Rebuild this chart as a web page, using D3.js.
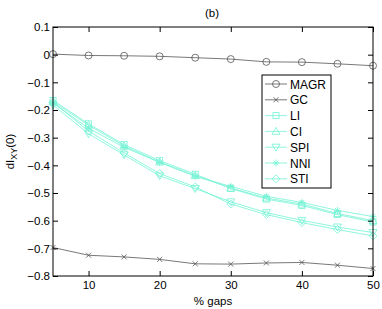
<!DOCTYPE html>
<html>
<head>
<meta charset="utf-8">
<script src="https://cdn.jsdelivr.net/npm/d3@7"></script>
<style>
  body { margin: 0; background: #fff; }
  svg { font-family: "Liberation Sans", Arial, sans-serif; }
</style>
</head>
<body>
<div id="chart"></div>
<script>
const gaps = [5, 10, 15, 20, 25, 30, 35, 40, 45, 50];
const magr = [0.002, -0.003, -0.004, -0.006, -0.011, -0.016, -0.026, -0.027, -0.033, -0.040];
const gc = [-0.697, -0.725, -0.731, -0.740, -0.756, -0.757, -0.753, -0.751, -0.761, -0.773];
const li = [-0.165, -0.250, -0.325, -0.383, -0.432, -0.484, -0.522, -0.545, -0.578, -0.605];
const ci = [-0.170, -0.255, -0.330, -0.388, -0.437, -0.482, -0.518, -0.540, -0.574, -0.600];
const spi = [-0.182, -0.286, -0.362, -0.438, -0.484, -0.532, -0.571, -0.599, -0.623, -0.643];
const nni = [-0.175, -0.266, -0.335, -0.390, -0.440, -0.476, -0.512, -0.534, -0.563, -0.585];
const sti = [-0.172, -0.276, -0.355, -0.430, -0.478, -0.540, -0.578, -0.607, -0.632, -0.655];
const xTicks = [10, 20, 30, 40, 50];
const yTicks = [0.1, 0, -0.1, -0.2, -0.3, -0.4, -0.5, -0.6, -0.7, -0.8];

const dark = '#555';
const cyan = '#74f2d4';
const series = [
  { name: 'MAGR', values: magr, color: dark, marker: 'circle' },
  { name: 'GC', values: gc, color: dark, marker: 'x' },
  { name: 'LI', values: li, color: cyan, marker: 'square' },
  { name: 'CI', values: ci, color: cyan, marker: 'triUp' },
  { name: 'SPI', values: spi, color: cyan, marker: 'triDown' },
  { name: 'NNI', values: nni, color: cyan, marker: 'star' },
  { name: 'STI', values: sti, color: cyan, marker: 'diamond' }
];

const width = 382, height = 309;
const margin = { top: 27, right: 9, bottom: 33, left: 53 };
const innerW = width - margin.left - margin.right;
const innerH = height - margin.top - margin.bottom;

const svg = d3.select('#chart').append('svg')
  .attr('width', width).attr('height', height);
const g = svg.append('g').attr('transform', `translate(${margin.left},${margin.top})`);

const x = d3.scaleLinear().domain([5, 50]).range([0, innerW]);
const y = d3.scaleLinear().domain([-0.8, 0.1]).range([innerH, 0]);

function drawMarker(sel, type, color) {
  const r = 3.5;
  if (type === 'circle') {
    sel.append('circle').attr('r', r).attr('fill', 'none').attr('stroke', color);
  } else if (type === 'x') {
    sel.append('path').attr('d', 'M-2.5,-2.5L2.5,2.5M-2.5,2.5L2.5,-2.5')
      .attr('stroke', color).attr('fill', 'none');
  } else if (type === 'square') {
    sel.append('rect').attr('x', -3).attr('y', -3).attr('width', 6).attr('height', 6)
      .attr('fill', 'none').attr('stroke', color);
  } else if (type === 'triUp') {
    sel.append('path').attr('d', 'M0,-4L4,3L-4,3Z').attr('fill', 'none').attr('stroke', color);
  } else if (type === 'triDown') {
    sel.append('path').attr('d', 'M0,4L4,-3L-4,-3Z').attr('fill', 'none').attr('stroke', color);
  } else if (type === 'star') {
    sel.append('path').attr('d', 'M-3.5,0L3.5,0M0,-3.5L0,3.5M-2.5,-2.5L2.5,2.5M-2.5,2.5L2.5,-2.5')
      .attr('stroke', color).attr('fill', 'none');
  } else if (type === 'diamond') {
    sel.append('path').attr('d', 'M0,-4L4,0L0,4L-4,0Z').attr('fill', 'none').attr('stroke', color);
  }
}

const line = d3.line().x((d, i) => x(gaps[i])).y(d => y(d));

// Lines and markers
series.forEach(s => {
  g.append('path').datum(s.values)
    .attr('d', line)
    .attr('fill', 'none')
    .attr('stroke', s.color)
    .attr('stroke-width', 0.8);
  s.values.forEach((v, i) => {
    const m = g.append('g').attr('transform', `translate(${x(gaps[i])},${y(v)})`)
      .attr('stroke-width', 0.8);
    drawMarker(m, s.marker, s.color);
  });
});

// Axes (MATLAB box style, ticks inside)
const tickLen = 5;
const styleAxis = sel => {
  sel.select('.domain').remove();
  sel.selectAll('.tick line').attr('stroke', '#000');
  sel.selectAll('.tick text').attr('fill', '#000').style('font-size', '11.5px')
    .style('font-family', '"Liberation Sans", Arial, sans-serif');
};

g.append('g').attr('transform', `translate(0,${innerH})`)
  .call(d3.axisBottom(x).tickValues(xTicks).tickSizeInner(-tickLen).tickSizeOuter(0).tickPadding(5))
  .call(styleAxis);
g.append('g')
  .call(d3.axisTop(x).tickValues(xTicks).tickSizeInner(-tickLen).tickSizeOuter(0).tickFormat(''))
  .call(styleAxis);
g.append('g')
  .call(d3.axisLeft(y).tickValues(yTicks).tickSizeInner(-tickLen).tickSizeOuter(0).tickPadding(3)
    .tickFormat(d => d === 0 ? '0' : d3.format('.1f')(d).replace('-', '\u2212')))
  .call(styleAxis);
g.append('g').attr('transform', `translate(${innerW},0)`)
  .call(d3.axisRight(y).tickValues(yTicks).tickSizeInner(-tickLen).tickSizeOuter(0).tickFormat(''))
  .call(styleAxis);

g.append('rect').attr('width', innerW).attr('height', innerH)
  .attr('fill', 'none').attr('stroke', '#000').attr('stroke-width', 1);

// Title and labels
svg.append('text').attr('x', 212).attr('y', 17).attr('text-anchor', 'middle')
  .style('font-size', '11.5px').text('(b)');
svg.append('text').attr('x', margin.left + innerW / 2).attr('y', 305).attr('text-anchor', 'middle')
  .style('font-size', '11.5px').text('% gaps');
const yl = svg.append('text')
  .attr('transform', `translate(14,${margin.top + innerH / 2}) rotate(-90)`)
  .attr('text-anchor', 'middle').style('font-size', '11.5px');
yl.append('tspan').text('dI');
yl.append('tspan').attr('dy', 3).style('font-size', '9px').text('XY');
yl.append('tspan').attr('dy', -3).text('(0)');

// Legend
const lg = svg.append('g').attr('transform', 'translate(262,75)');
lg.append('rect').attr('width', 69).attr('height', 113)
  .attr('fill', '#fff').attr('stroke', '#000').attr('stroke-width', 1);
series.forEach((s, i) => {
  const row = lg.append('g').attr('transform', `translate(0,${9 + i * 15.8})`);
  row.append('line').attr('x1', 3).attr('x2', 25).attr('stroke', s.color).attr('stroke-width', 0.8);
  const m = row.append('g').attr('transform', 'translate(14,0)').attr('stroke-width', 0.8);
  drawMarker(m, s.marker, s.color);
  row.append('text').attr('x', 28).attr('y', 4.5).style('font-size', '12px').text(s.name);
});
</script>
</body>
</html>
